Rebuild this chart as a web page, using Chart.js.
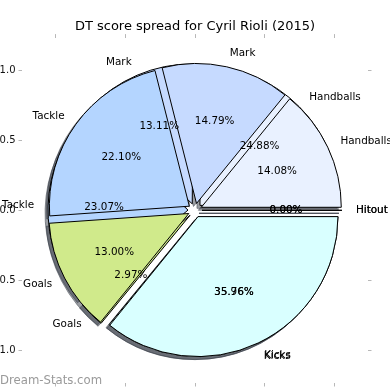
<!DOCTYPE html>
<html>
<head>
<meta charset="utf-8">
<script src="https://cdn.jsdelivr.net/npm/chart.js@4.4.1/dist/chart.umd.min.js"></script>
<style>
  html, body { margin: 0; padding: 0; background: #fff; }
  canvas { display: block; }
</style>
</head>
<body>
<canvas id="chart" width="390" height="390"></canvas>
<script>
// categories in matplotlib order (counter clockwise from east)
const categories = ['Handballs', 'Mark', 'Tackle', 'Goals', 'Kicks', 'Hitout'];
const spreadA = [24.88, 13.11, 23.07, 2.97, 35.96, 0.00]; // first pie (behind)
const spreadB = [14.08, 14.79, 22.10, 13.00, 35.76, 0.00]; // second pie (on top)
const sliceColors = ['#e9f1ff', '#c6daff', '#b4d5ff', '#d0ea8b', '#d9ffff', '#f0e0ff'];
const axisTicks = [-1.0, -0.5, 0.0, 0.5, 1.0];
const titleText = 'DT score spread for Cyril Rioli (2015)';
const watermark = 'Dream-Stats.com';

const EXPLODE = 0.05;
const LABEL_DIST = 1.1;
const PCT_DIST = 0.6;
const LIM = 1.236;

Chart.defaults.font.family = '"DejaVu Sans", sans-serif';

// chart.js goes clockwise, so feed everything reversed
const rev = a => a.slice().reverse();

function pieGeometry(chart) {
    let xs = chart.scales.x;
    let ys = chart.scales.y;
    return {
        cx: xs.getPixelForValue(0),
        cy: ys.getPixelForValue(0),
        r: xs.getPixelForValue(1) - xs.getPixelForValue(0)
    };
}

function eachArc(chart, fn) {
    chart.data.datasets.forEach((ds, i) => {
        chart.getDatasetMeta(i).data.forEach((arc, j) => fn(arc, ds, j));
    });
}

const pieOverlay = {
    id: 'pieOverlay',
    afterUpdate(chart) {
        // both pies full size, same centre, every wedge pushed out a bit
        let g = pieGeometry(chart);
        eachArc(chart, arc => {
            let mid = (arc.startAngle + arc.endAngle) / 2;
            arc.x = g.cx + EXPLODE * g.r * Math.cos(mid);
            arc.y = g.cy + EXPLODE * g.r * Math.sin(mid);
            arc.innerRadius = 0;
            arc.outerRadius = g.r;
        });
    },
    beforeDatasetsDraw(chart) {
        // shadows under everything
        let ctx = chart.ctx;
        ctx.save();
        ctx.fillStyle = 'rgba(55,62,72,0.5)';
        ctx.strokeStyle = 'rgba(55,62,72,0.5)';
        ctx.lineWidth = 1;
        eachArc(chart, arc => {
            let x = arc.x - 3, y = arc.y + 3;
            ctx.beginPath();
            ctx.moveTo(x, y);
            ctx.arc(x, y, arc.outerRadius, arc.startAngle, arc.endAngle);
            ctx.closePath();
            ctx.fill();
            ctx.stroke();
        });
        ctx.restore();
    },
    afterDatasetDraw(chart, args) {
        // zero wedges are skipped by chart.js, matplotlib still draws the edge
        let ctx = chart.ctx;
        ctx.save();
        ctx.strokeStyle = '#000';
        ctx.lineWidth = 1;
        args.meta.data.forEach(arc => {
            if (arc.endAngle - arc.startAngle > 1e-6) return;
            ctx.beginPath();
            ctx.moveTo(arc.x, arc.y);
            ctx.lineTo(arc.x + arc.outerRadius * Math.cos(arc.startAngle),
                       arc.y + arc.outerRadius * Math.sin(arc.startAngle));
            ctx.stroke();
        });
        ctx.restore();
    },
    afterDatasetsDraw(chart) {
        let ctx = chart.ctx;
        let g = pieGeometry(chart);
        ctx.save();
        ctx.fillStyle = '#000';
        ctx.font = '10.4px "DejaVu Sans"';
        ctx.textBaseline = 'middle';
        eachArc(chart, (arc, ds, j) => {
            let mid = (arc.startAngle + arc.endAngle) / 2;
            let c = Math.cos(mid), s = Math.sin(mid);
            let lx = arc.x + LABEL_DIST * arc.outerRadius * c;
            let ly = arc.y + LABEL_DIST * arc.outerRadius * s;
            ctx.textAlign = lx > g.cx ? 'left' : 'right';
            ctx.fillText(chart.data.labels[j], lx, ly);
            ctx.textAlign = 'center';
            ctx.fillText(ds.data[j].toFixed(2) + '%',
                         arc.x + PCT_DIST * arc.outerRadius * c,
                         arc.y + PCT_DIST * arc.outerRadius * s);
        });
        ctx.font = '11.7px "DejaVu Sans"';
        ctx.fillStyle = '#9a9a9a';
        ctx.textAlign = 'left';
        ctx.textBaseline = 'alphabetic';
        ctx.fillText(watermark, 0, 384);
        ctx.restore();
    }
};

function axis(pos, showLabels, size) {
    let horiz = (pos === 'top' || pos === 'bottom');
    return {
        type: 'linear',
        axis: horiz ? 'x' : 'y',
        position: pos,
        min: -LIM,
        max: LIM,
        border: { display: false },
        grid: { drawOnChartArea: false, drawTicks: true, tickLength: 3.5, color: '#b8b8b8' },
        ticks: {
            display: showLabels,
            autoSkip: false,
            padding: 3,
            color: '#111',
            font: { size: 10 },
            callback: v => v.toFixed(1).replace('-', '\u2212')
        },
        afterBuildTicks: s => { s.ticks = axisTicks.map(v => ({ value: v })); },
        afterFit: s => {
            if (horiz) s.height = size; else s.width = size;
            // no extra room for label overhang
            s.paddingTop = s.paddingBottom = s.paddingLeft = s.paddingRight = 0;
        }
    };
}

let ctx = document.getElementById('chart').getContext('2d');
let chart = new Chart(ctx, {
    type: 'pie',
    data: {
        labels: rev(categories),
        datasets: [{
            data: rev(spreadA),
            backgroundColor: rev(sliceColors),
            borderColor: '#000',
            borderWidth: 1,
            order: 1
        }, {
            data: rev(spreadB),
            backgroundColor: rev(sliceColors),
            borderColor: '#000',
            borderWidth: 1,
            order: 0
        }]
    },
    options: {
        responsive: false,
        animation: false,
        devicePixelRatio: 1,
        rotation: 90,
        layout: { padding: 0 },
        plugins: {
            legend: { display: false },
            tooltip: { enabled: false },
            title: {
                display: true,
                text: titleText,
                color: '#000',
                font: { size: 13, weight: 'normal' },
                padding: { top: 18.5, bottom: 0 }
            }
        },
        scales: {
            x: axis('bottom', true, 7),
            x2: axis('top', false, 3.5),
            y: axis('left', true, 22),
            y2: axis('right', false, 22)
        }
    },
    plugins: [pieOverlay]
});
</script>
</body>
</html>
